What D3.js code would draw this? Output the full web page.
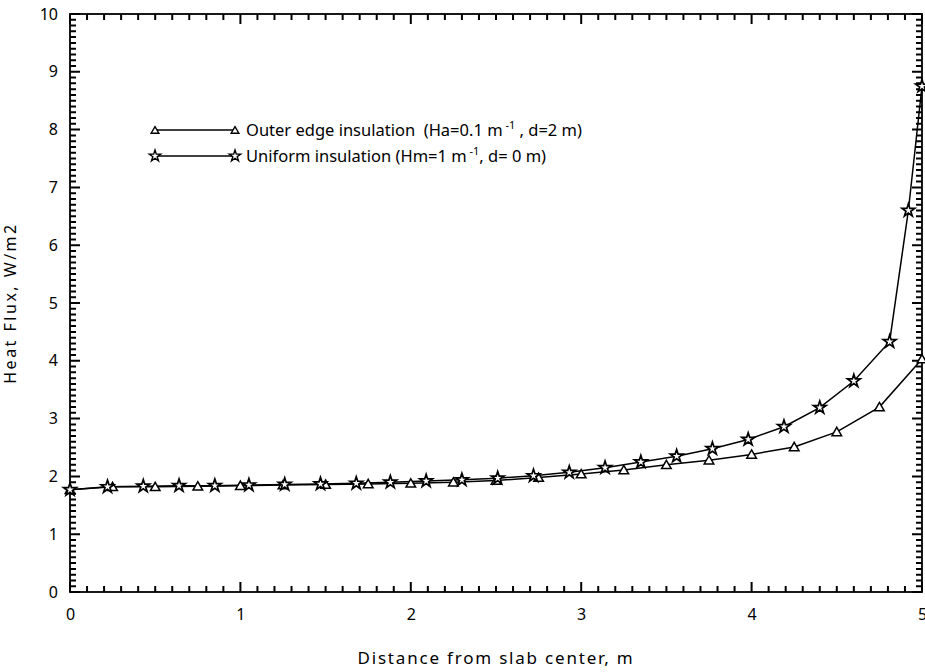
<!DOCTYPE html>
<html lang="en">
<head>
    <meta charset="utf-8">
    <title>Heat flux</title>
    <script src="https://cdn.jsdelivr.net/npm/d3@7"></script>
    <style type="text/css">
        body { margin: 0; background: #fff; }
        text { font-family: "Noto Sans", "DejaVu Sans", sans-serif; fill: #000; white-space: pre; }
        .domain { display: none; }
    </style>
</head>
<body>
    <div id="chart"></div>
    <script>
        // outer edge insulation (triangles)
        var edgeX = [0, 0.25, 0.5, 0.75, 1.0, 1.25, 1.5, 1.75, 2.0, 2.25, 2.5, 2.75, 3.0, 3.25, 3.5, 3.75, 4.0, 4.25, 4.5, 4.75, 5.0];
        var edgeY = [1.77, 1.82, 1.82, 1.83, 1.84, 1.85, 1.86, 1.87, 1.88, 1.90, 1.93, 1.98, 2.04, 2.11, 2.20, 2.28, 2.38, 2.51, 2.77, 3.20, 4.03];

        // uniform insulation (stars)
        var unifX = [0, 0.22, 0.43, 0.64, 0.85, 1.05, 1.26, 1.47, 1.68, 1.88, 2.09, 2.30, 2.51, 2.72, 2.93, 3.14, 3.35, 3.56, 3.77, 3.98, 4.19, 4.40, 4.60, 4.81, 4.92, 5.0];
        var unifY = [1.77, 1.82, 1.83, 1.84, 1.84, 1.85, 1.86, 1.87, 1.88, 1.90, 1.92, 1.94, 1.97, 2.01, 2.07, 2.15, 2.25, 2.35, 2.48, 2.64, 2.86, 3.19, 3.65, 4.33, 6.6, 8.75];

        var xTicks = [0, 1, 2, 3, 4, 5];
        var yTicks = [0, 1, 2, 3, 4, 5, 6, 7, 8, 9, 10];

        var legendLabels = ["Outer edge insulation  (Ha=0.1 m", "Uniform insulation (Hm=1 m"];
        var legendTails = [" , d=2 m)", ", d= 0 m)"];

        var width = 925, height = 672;
        var margin = { top: 14, right: 3, bottom: 80, left: 70 };
        var w = width - margin.left - margin.right,
            h = height - margin.top - margin.bottom;

        var svg = d3.select("#chart").append("svg")
            .attr("width", width)
            .attr("height", height);

        var g = svg.append("g")
            .attr("transform", "translate(" + margin.left + "," + margin.top + ")");

        var x = d3.scaleLinear().domain([0, 5]).range([0, w]);
        var y = d3.scaleLinear().domain([0, 10]).range([h, 0]);

        // tick labels from the axes
        g.append("g").attr("transform", "translate(0," + h + ")")
            .call(d3.axisBottom(x).tickValues(xTicks).tickSize(0).tickPadding(14).tickFormat(d3.format("d")))
            .selectAll("text").attr("font-size", 16).attr("dy", "0.9em");
        g.append("g")
            .call(d3.axisLeft(y).tickValues(yTicks).tickSize(0).tickPadding(12).tickFormat(d3.format("d")))
            .selectAll("text").attr("font-size", 16);

        // inward ticks on all four sides, minor every 0.1, built as one path
        var p = d3.path();
        d3.range(0, 51).forEach(function (k) {
            var len = k % 10 === 0 ? 10 : 6;
            var px = x(k / 10);
            p.moveTo(px, h); p.lineTo(px, h - len);
            p.moveTo(px, 0); p.lineTo(px, len);
        });
        d3.range(0, 101).forEach(function (k) {
            var len = k % 10 === 0 ? 10 : 6;
            var py = y(k / 10);
            p.moveTo(0, py); p.lineTo(len, py);
            p.moveTo(w, py); p.lineTo(w - len, py);
        });
        g.append("path")
            .attr("d", p.toString())
            .attr("fill", "none")
            .attr("stroke", "#000")
            .attr("stroke-width", 2);

        g.append("rect")
            .attr("width", w).attr("height", h)
            .attr("fill", "none").attr("stroke", "#000").attr("stroke-width", 1.8);

        var line = d3.line().x(d => x(d[0])).y(d => y(d[1]));
        var edge = edgeX.map((d, i) => [d, edgeY[i]]);
        var unif = unifX.map((d, i) => [d, unifY[i]]);

        var tri = d3.symbol().type(d3.symbolTriangle).size(40);
        var star = d3.symbol().type(d3.symbolStar).size(50);

        g.append("path").datum(edge)
            .attr("d", line).attr("fill", "none").attr("stroke", "#000").attr("stroke-width", 1.5);
        g.append("path").datum(unif)
            .attr("d", line).attr("fill", "none").attr("stroke", "#000").attr("stroke-width", 1.5);

        g.selectAll(".tri").data(edge).enter().append("path")
            .attr("class", "tri")
            .attr("d", tri)
            .attr("transform", d => "translate(" + x(d[0]) + "," + (y(d[1]) + 1) + ")")
            .attr("fill", "#fff").attr("stroke", "#000").attr("stroke-width", 1.5);
        g.selectAll(".star").data(unif).enter().append("path")
            .attr("class", "star")
            .attr("d", star)
            .attr("transform", d => "translate(" + x(d[0]) + "," + y(d[1]) + ")")
            .attr("fill", "#fff").attr("stroke", "#000").attr("stroke-width", 1.7);

        // legend
        var legend = svg.append("g");
        var legendSymbols = [tri, star];
        legendLabels.forEach(function (label, i) {
            var ly = 130 + i * 26;
            legend.append("line")
                .attr("x1", 155).attr("x2", 235).attr("y1", ly).attr("y2", ly)
                .attr("stroke", "#000").attr("stroke-width", 1.3);
            [155, 235].forEach(function (sx) {
                legend.append("path")
                    .attr("d", legendSymbols[i].size(i ? 40 : 26))
                    .attr("transform", "translate(" + sx + "," + (ly + (i ? 0 : 1)) + ")")
                    .attr("fill", "#fff").attr("stroke", "#000").attr("stroke-width", 1.4);
            });
            var t = legend.append("text")
                .attr("x", 246).attr("y", ly + 6)
                .attr("font-size", 16.5);
            t.append("tspan").text(label);
            t.append("tspan").attr("font-size", 11).attr("dy", -7).text(" -1");
            t.append("tspan").attr("dy", 7).text(legendTails[i]);
        });

        svg.append("text")
            .attr("transform", "translate(16," + (margin.top + h / 2) + ") rotate(-90)")
            .attr("text-anchor", "middle")
            .attr("font-size", 16)
            .attr("letter-spacing", 2.5)
            .text("Heat Flux, W/m2");

        svg.append("text")
            .attr("x", margin.left + w / 2)
            .attr("y", 664)
            .attr("text-anchor", "middle")
            .attr("font-size", 17)
            .attr("letter-spacing", 1.8)
            .text("Distance from slab center, m");
    </script>
</body>
</html>
